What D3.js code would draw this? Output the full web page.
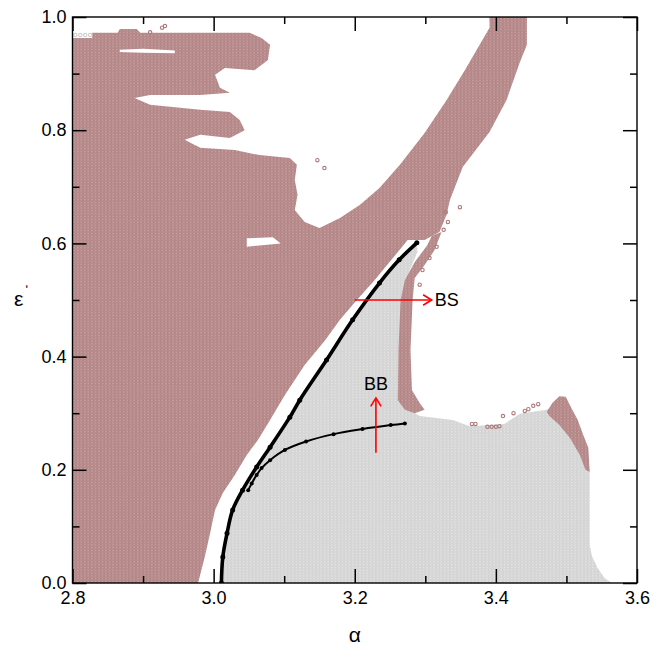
<!DOCTYPE html>
<html lang="en">
<head>
    <meta charset="UTF-8">
    <script src="https://cdn.jsdelivr.net/npm/d3@7"></script>
    <title>alpha - epsilon' diagram</title>
    <style>
        body { margin: 0; background: white; }
        svg { display: block; font-family: "Liberation Sans", Arial, sans-serif; }
    </style>
</head>
<body>
    <div id="chart"></div>
    <script>
        // axis ticks
        const xMajor = [2.8, 3.0, 3.2, 3.4, 3.6];
        const xMinor = [2.9, 3.1, 3.3, 3.5];
        const yMajor = [0.0, 0.2, 0.4, 0.6, 0.8, 1.0];
        const yMinor = [0.1, 0.3, 0.5, 0.7, 0.9];

        // rose region (left region + upper band), [alpha, eps']
        const roseMain = [
            [2.8, 0], [2.8, 0.963], [2.828, 0.963], [2.828, 0.972], [2.864, 0.972], [2.867, 0.979],
            [2.891, 0.979], [2.896, 0.972], [3.051, 0.972], [3.068, 0.963], [3.080, 0.951], [3.077, 0.924],
            [3.058, 0.906], [3.016, 0.910], [3.002, 0.898], [3.009, 0.875], [3.023, 0.866], [2.981, 0.862],
            [2.910, 0.862], [2.888, 0.857], [2.910, 0.845], [2.981, 0.836], [3.023, 0.832], [3.037, 0.818],
            [3.044, 0.800], [3.023, 0.786], [2.981, 0.792], [2.959, 0.783], [2.981, 0.769], [3.030, 0.765],
            [3.065, 0.756], [3.108, 0.751], [3.118, 0.739], [3.115, 0.712], [3.119, 0.686], [3.115, 0.659],
            [3.129, 0.638], [3.150, 0.627], [3.179, 0.645], [3.207, 0.668], [3.235, 0.698], [3.264, 0.739],
            [3.299, 0.795], [3.330, 0.853], [3.356, 0.906], [3.377, 0.951], [3.391, 0.981], [3.391, 1.0],
            [3.444, 1.0], [3.444, 0.951], [3.434, 0.920], [3.415, 0.853], [3.391, 0.797], [3.353, 0.735],
            [3.335, 0.677], [3.330, 0.650], [3.320, 0.620], [3.299, 0.606], [3.275, 0.606], [3.254, 0.574],
            [3.228, 0.535], [3.203, 0.500], [3.179, 0.465], [3.158, 0.429], [3.129, 0.385], [3.101, 0.332],
            [3.080, 0.288], [3.063, 0.253], [3.047, 0.226], [3.030, 0.191], [3.013, 0.159], [3.002, 0.129],
            [2.995, 0.088], [2.988, 0.049], [2.978, 0]
        ];
        // thin rose strip right of the grey region
        const roseStrip = [
            [3.323, 0.620], [3.313, 0.588], [3.299, 0.562], [3.285, 0.539], [3.282, 0.500], [3.279, 0.412],
            [3.281, 0.341], [3.292, 0.318], [3.299, 0.306], [3.285, 0.300], [3.271, 0.306], [3.261, 0.323],
            [3.262, 0.412], [3.265, 0.500], [3.271, 0.535], [3.285, 0.567], [3.303, 0.597], [3.309, 0.613]
        ];
        // small rose patch at the right
        const rosePatch = [
            [3.472, 0.302], [3.480, 0.318], [3.490, 0.330], [3.499, 0.329], [3.507, 0.309], [3.516, 0.288],
            [3.524, 0.261], [3.531, 0.239], [3.533, 0.196], [3.527, 0.200], [3.519, 0.226], [3.505, 0.256],
            [3.490, 0.279], [3.476, 0.295]
        ];
        // scattered rose points
        const roseDots = [
            [3.366, 0.281], [3.371, 0.281], [3.388, 0.276], [3.394, 0.276], [3.400, 0.276], [3.405, 0.277],
            [3.410, 0.295], [3.425, 0.300], [3.441, 0.304], [3.446, 0.307], [3.453, 0.313], [3.460, 0.316],
            [3.349, 0.664], [3.329, 0.655], [3.332, 0.638], [3.326, 0.624], [3.316, 0.594], [3.306, 0.574],
            [3.296, 0.553], [3.292, 0.527], [2.910, 0.973], [2.927, 0.981], [2.931, 0.984],
            [3.147, 0.747], [3.157, 0.733]
        ];
        // white holes inside the rose region
        const holes = [
            [[2.867, 0.942], [2.900, 0.944], [2.945, 0.941], [2.945, 0.936], [2.900, 0.937], [2.867, 0.938]],
            [[3.047, 0.609], [3.084, 0.611], [3.095, 0.600], [3.047, 0.594]]
        ];

        // black curve 1 (long), from bottom to top
        const curve1 = [
            [3.011, 0.0], [3.013, 0.046], [3.019, 0.088], [3.027, 0.129], [3.041, 0.164], [3.061, 0.205],
            [3.080, 0.240], [3.108, 0.293], [3.122, 0.323], [3.160, 0.394], [3.197, 0.465], [3.235, 0.530],
            [3.263, 0.571], [3.288, 0.601]
        ];
        // black curve 2 (short)
        const curve2 = [
            [3.049, 0.164], [3.054, 0.176], [3.061, 0.191], [3.068, 0.203], [3.080, 0.217], [3.101, 0.235],
            [3.131, 0.250], [3.170, 0.263], [3.211, 0.272], [3.251, 0.279], [3.271, 0.282]
        ];
        // grey region: right side of curve 1 (curve1 reversed is prepended below)
        const greyRest = [
            [3.564, 0], [3.554, 0.009], [3.544, 0.027], [3.536, 0.048], [3.533, 0.067], [3.533, 0.200],
            [3.511, 0.253], [3.495, 0.323], [3.472, 0.306], [3.434, 0.299], [3.412, 0.281], [3.363, 0.277],
            [3.339, 0.288], [3.292, 0.295], [3.278, 0.306], [3.271, 0.323], [3.271, 0.518], [3.278, 0.553],
            [3.289, 0.585]
        ];
        const greyTop = [[3.391, 1.0], [3.444, 1.0], [3.444, 0.991], [3.391, 0.991]];
        const greyDots = [[2.804, 0.968], [2.811, 0.968], [2.818, 0.968], [2.825, 0.968]];

        // red arrows and labels
        const arrows = [
            { label: "BS", from: [3.200, 0.500], to: [3.309, 0.500] },
            { label: "BB", from: [3.230, 0.230], to: [3.230, 0.327] }
        ];

        const W = 652, H = 648;
        const margin = { left: 72.5, right: 15, top: 17, bottom: 65 };

        const x = d3.scaleLinear().domain([2.8, 3.6]).range([margin.left, W - margin.right]);
        const y = d3.scaleLinear().domain([0, 1]).range([H - margin.bottom, margin.top]);

        const svg = d3.select("#chart").append("svg").attr("width", W).attr("height", H);
        const defs = svg.append("defs");

        defs.append("clipPath").attr("id", "plotclip").append("rect")
            .attr("x", x(2.8)).attr("y", y(1)).attr("width", x(3.6) - x(2.8)).attr("height", y(0) - y(1));

        // marker grid textures (step 0.005 in both directions)
        const pw = x(2.805) - x(2.8), ph = y(0) - y(0.005);
        const makePattern = (id, bg, ring) => {
            const p = defs.append("pattern").attr("id", id)
                .attr("patternUnits", "userSpaceOnUse")
                .attr("x", x(2.8)).attr("y", y(1))
                .attr("width", pw).attr("height", ph);
            p.append("rect").attr("width", pw).attr("height", ph).attr("fill", bg);
            p.append("circle").attr("cx", pw / 2).attr("cy", ph / 2).attr("r", 1.35)
                .attr("fill", "none").attr("stroke", ring).attr("stroke-width", 0.9);
        };
        makePattern("rose", "#c8a3a3", "#b08081");
        makePattern("grey", "#e6e6e6", "#d0d0d0");

        const area = d3.line().x(d => x(d[0])).y(d => y(d[1]));

        const plot = svg.append("g").attr("clip-path", "url(#plotclip)");

        const greyPoly = curve1.slice().reverse().concat(greyRest);
        plot.append("path").attr("d", area(greyPoly) + "Z").attr("fill", "url(#grey)");
        plot.append("path").attr("d", area(greyTop) + "Z").attr("fill", "url(#grey)");

        [roseMain, roseStrip, rosePatch].forEach(poly => {
            plot.append("path").attr("d", area(poly) + "Z").attr("fill", "url(#rose)");
        });
        holes.forEach(poly => {
            plot.append("path").attr("d", area(poly) + "Z").attr("fill", "white");
        });

        plot.selectAll("circle.rd").data(roseDots).enter().append("circle").attr("class", "rd")
            .attr("cx", d => x(d[0])).attr("cy", d => y(d[1])).attr("r", 1.7)
            .attr("fill", "none").attr("stroke", "#ad7a7b").attr("stroke-width", 1.1);
        plot.selectAll("circle.gd").data(greyDots).enter().append("circle").attr("class", "gd")
            .attr("cx", d => x(d[0])).attr("cy", d => y(d[1])).attr("r", 1.7)
            .attr("fill", "none").attr("stroke", "#cfcfcf").attr("stroke-width", 1.1);

        // black curves with markers
        const smooth = d3.line().x(d => x(d[0])).y(d => y(d[1])).curve(d3.curveCatmullRom);
        plot.append("path").attr("d", smooth(curve1)).attr("fill", "none")
            .attr("stroke", "black").attr("stroke-width", 3.6);
        plot.append("path").attr("d", smooth(curve2)).attr("fill", "none")
            .attr("stroke", "black").attr("stroke-width", 2);
        plot.selectAll("circle.c1").data(curve1).enter().append("circle").attr("class", "c1")
            .attr("cx", d => x(d[0])).attr("cy", d => y(d[1])).attr("r", 2.5).attr("fill", "black");
        plot.selectAll("circle.c2").data(curve2).enter().append("circle").attr("class", "c2")
            .attr("cx", d => x(d[0])).attr("cy", d => y(d[1])).attr("r", 2).attr("fill", "black");

        // red arrows
        arrows.forEach(a => {
            const x1 = x(a.from[0]), y1 = y(a.from[1]), x2 = x(a.to[0]), y2 = y(a.to[1]);
            const ang = Math.atan2(y2 - y1, x2 - x1), hl = 10, hw = 0.55;
            svg.append("line").attr("x1", x1).attr("y1", y1).attr("x2", x2).attr("y2", y2)
                .attr("stroke", "red").attr("stroke-width", 1.6);
            svg.append("path")
                .attr("d", `M${x2 - hl * Math.cos(ang - hw)},${y2 - hl * Math.sin(ang - hw)}L${x2},${y2}L${x2 - hl * Math.cos(ang + hw)},${y2 - hl * Math.sin(ang + hw)}`)
                .attr("fill", "none").attr("stroke", "red").attr("stroke-width", 1.6);
            const horiz = Math.abs(x2 - x1) > Math.abs(y2 - y1);
            svg.append("text")
                .attr("x", horiz ? x2 + 3 : x2)
                .attr("y", horiz ? y2 : y2 - 8)
                .attr("text-anchor", horiz ? "start" : "middle")
                .attr("dominant-baseline", horiz ? "central" : "auto")
                .attr("font-size", 18).attr("fill", "black")
                .text(a.label);
        });

        // axes, ticks pointing inwards on all four sides
        const styleAxis = g => {
            g.select(".domain").remove();
            g.selectAll("line").attr("stroke", "black").attr("stroke-width", 1.5);
            g.selectAll("text").attr("font-size", 18).attr("fill", "black")
                .attr("font-family", "'Liberation Sans', Arial, sans-serif");
        };
        const fmt = d3.format(".1f");
        svg.append("g").attr("transform", `translate(0,${y(0)})`)
            .call(d3.axisBottom(x).tickValues(xMajor).tickSize(-14).tickPadding(8).tickFormat(fmt)).call(styleAxis);
        svg.append("g").attr("transform", `translate(0,${y(0)})`)
            .call(d3.axisBottom(x).tickValues(xMinor).tickSize(-7).tickFormat("")).call(styleAxis);
        svg.append("g").attr("transform", `translate(0,${y(1)})`)
            .call(d3.axisTop(x).tickValues(xMajor).tickSize(-14).tickFormat("")).call(styleAxis);
        svg.append("g").attr("transform", `translate(0,${y(1)})`)
            .call(d3.axisTop(x).tickValues(xMinor).tickSize(-7).tickFormat("")).call(styleAxis);
        svg.append("g").attr("transform", `translate(${x(2.8)},0)`)
            .call(d3.axisLeft(y).tickValues(yMajor).tickSize(-14).tickPadding(6).tickFormat(fmt)).call(styleAxis);
        svg.append("g").attr("transform", `translate(${x(2.8)},0)`)
            .call(d3.axisLeft(y).tickValues(yMinor).tickSize(-7).tickFormat("")).call(styleAxis);
        svg.append("g").attr("transform", `translate(${x(3.6)},0)`)
            .call(d3.axisRight(y).tickValues(yMajor).tickSize(-14).tickFormat("")).call(styleAxis);
        svg.append("g").attr("transform", `translate(${x(3.6)},0)`)
            .call(d3.axisRight(y).tickValues(yMinor).tickSize(-7).tickFormat("")).call(styleAxis);

        svg.append("rect")
            .attr("x", x(2.8)).attr("y", y(1)).attr("width", x(3.6) - x(2.8)).attr("height", y(0) - y(1))
            .attr("fill", "none").attr("stroke", "black").attr("stroke-width", 1.4);

        // axis titles
        svg.append("text").attr("x", (x(2.8) + x(3.6)) / 2).attr("y", 642)
            .attr("text-anchor", "middle").attr("font-size", 21).text("α");
        const yt = svg.append("text").attr("x", 14).attr("y", 306).attr("font-size", 21);
        yt.append("tspan").text("ε");
        yt.append("tspan").attr("font-size", 13).attr("dx", 2).attr("dy", -12).text("ʹ");
    </script>
</body>
</html>
